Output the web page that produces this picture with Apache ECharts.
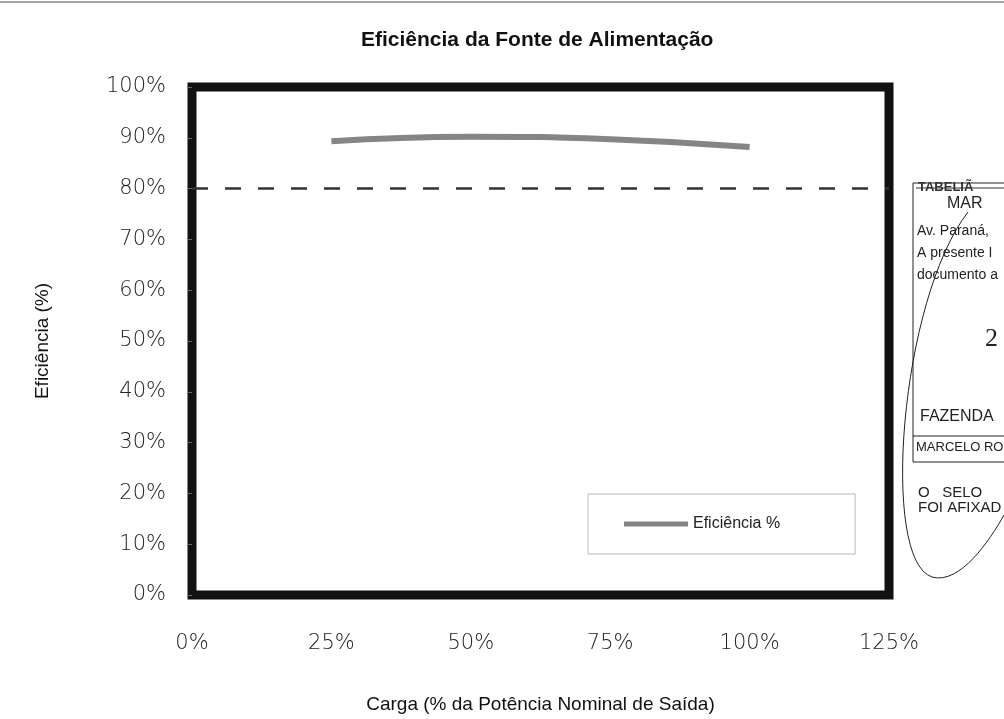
<!DOCTYPE html>
<html>
<head>
<meta charset="utf-8">
<script src="https://cdn.jsdelivr.net/npm/echarts@6/dist/echarts.min.js"></script>
<style>
  html, body { margin: 0; padding: 0; background: #fff; }
  #main { width: 1004px; height: 719px; }
</style>
</head>
<body>
<div id="main"></div>
<script>
var myChart = echarts.init(document.getElementById('main'));

// carga (% da potência nominal) e eficiência medida
var cargas = [25, 50, 75, 100];
var eficiencia = [89.3, 90.2, 89.7, 88.2];
var limite = 80; // linha tracejada de referência
var xTicks = [0, 25, 50, 75, 100, 125];
var yTicks = [0, 10, 20, 30, 40, 50, 60, 70, 80, 90, 100];

var pontos = cargas.map(function (c, i) { return [c, eficiencia[i]]; });

var labelFont = {
    fontFamily: 'DejaVu Sans',
    fontWeight: 200,
    fontSize: 21,
    color: '#222'
};

myChart.setOption({
    backgroundColor: '#fff',
    animation: false,
    title: {
        text: 'Eficiência da Fonte de Alimentação',
        left: 356,
        top: 25,
        textStyle: {
            fontFamily: 'Liberation Sans',
            fontSize: 21,
            fontWeight: 'bold',
            color: '#111'
        }
    },
    legend: {
        data: [{ name: 'Eficiência %', icon: 'rect' }],
        left: 588,
        top: 494,
        orient: 'horizontal',
        itemWidth: 64,
        itemHeight: 5,
        itemGap: 6,
        padding: [22, 75, 22, 36],
        borderColor: '#bbb',
        borderWidth: 1,
        textStyle: { fontFamily: 'Liberation Sans', fontSize: 16, color: '#222' }
    },
    grid: {
        left: 192,
        right: 115,
        top: 87,
        bottom: 121,
        show: true,
        borderColor: '#111',
        borderWidth: 9,
        backgroundColor: '#fff'
    },
    xAxis: {
        type: 'value',
        min: 0,
        max: 125,
        interval: 25,
        name: 'Carga (% da Potência Nominal de Saída)',
        nameLocation: 'middle',
        nameGap: 100,
        nameTextStyle: { fontFamily: 'Liberation Sans', fontSize: 19, color: '#111' },
        axisLine: { show: false },
        axisTick: { show: false },
        splitLine: { show: false },
        axisLabel: Object.assign({
            margin: 38,
            formatter: function (v) { return xTicks.indexOf(v) >= 0 ? v + '%' : ''; }
        }, labelFont)
    },
    yAxis: {
        type: 'value',
        min: 0,
        max: 100,
        interval: 10,
        name: 'Eficiência (%)',
        nameLocation: 'middle',
        nameGap: 140,
        nameRotate: 90,
        nameTextStyle: { fontFamily: 'Liberation Sans', fontSize: 19, color: '#111' },
        axisLine: { show: false },
        axisTick: { show: true, inside: false, length: 5, lineStyle: { color: '#666' } },
        splitLine: { show: false },
        axisLabel: Object.assign({
            margin: 26,
            formatter: function (v) { return yTicks.indexOf(v) >= 0 ? v + '%' : ''; }
        }, labelFont)
    },
    series: [{
        name: 'Eficiência %',
        type: 'line',
        data: pontos,
        smooth: true,
        symbol: 'none',
        lineStyle: { color: '#858585', width: 6 },
        itemStyle: { color: '#858585' },
        markLine: {
            silent: true,
            symbol: 'none',
            label: { show: false },
            lineStyle: { color: '#333', width: 2.5, type: [16, 17] },
            data: [{ yAxis: limite }]
        }
    }],
    graphic: [
        // linha fina no topo da página digitalizada
        { type: 'line', shape: { x1: 0, y1: 2, x2: 1004, y2: 2 }, style: { stroke: '#888', lineWidth: 1.5 } },
        // carimbo do cartório (recortado à direita)
        { type: 'rect', shape: { x: 913, y: 183, width: 100, height: 279 }, style: { fill: 'none', stroke: '#222', lineWidth: 1 } },
        { type: 'text', x: 918, y: 181, style: { text: 'TABELIÃ', fontFamily: 'Liberation Sans', fontSize: 13, fontWeight: 'bold', fill: '#333' } },
        { type: 'line', shape: { x1: 916, y1: 188, x2: 1004, y2: 188 }, style: { stroke: '#333', lineWidth: 1 } },
        { type: 'text', x: 947, y: 196, style: { text: 'MAR', fontFamily: 'Liberation Sans', fontSize: 16, fill: '#222' } },
        { type: 'text', x: 917, y: 224, style: { text: 'Av. Paraná,', fontFamily: 'Liberation Sans', fontSize: 14, fill: '#222' } },
        { type: 'text', x: 917, y: 246, style: { text: 'A presente I', fontFamily: 'Liberation Sans', fontSize: 14, fill: '#222' } },
        { type: 'text', x: 917, y: 268, style: { text: 'documento a', fontFamily: 'Liberation Sans', fontSize: 14, fill: '#222' } },
        { type: 'text', x: 985, y: 326, style: { text: '2', fontFamily: 'Liberation Serif', fontSize: 26, fill: '#222' } },
        { type: 'text', x: 920, y: 409, style: { text: 'FAZENDA', fontFamily: 'Liberation Sans', fontSize: 16, fill: '#222' } },
        { type: 'line', shape: { x1: 913, y1: 436, x2: 1004, y2: 436 }, style: { stroke: '#222', lineWidth: 1 } },
        { type: 'text', x: 916, y: 441, style: { text: 'MARCELO RO', fontFamily: 'Liberation Sans', fontSize: 13, fill: '#222' } },
        { type: 'text', x: 918, y: 485, style: { text: 'O   SELO', fontFamily: 'Liberation Sans', fontSize: 15, fill: '#222' } },
        { type: 'text', x: 918, y: 500, style: { text: 'FOI AFIXAD', fontFamily: 'Liberation Sans', fontSize: 15, fill: '#222' } },
        // traço curvo da assinatura
        { type: 'bezierCurve', shape: { x1: 968, y1: 212, cpx1: 900, cpy1: 300, cpx2: 880, cpy2: 560, x2: 932, y2: 577 }, style: { stroke: '#222', lineWidth: 1, fill: 'none' } },
        { type: 'bezierCurve', shape: { x1: 932, y1: 577, cpx1: 960, cpy1: 585, cpx2: 990, cpy2: 540, x2: 1004, y2: 515 }, style: { stroke: '#222', lineWidth: 1, fill: 'none' } }
    ]
});
</script>
</body>
</html>
